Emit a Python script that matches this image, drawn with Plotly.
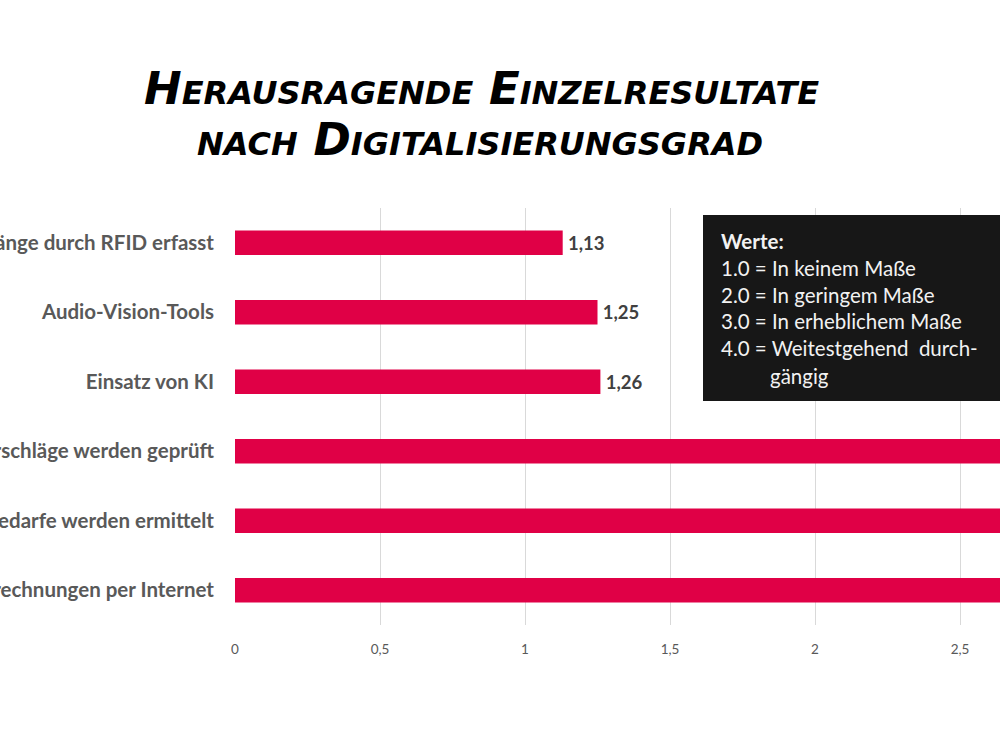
import plotly.graph_objects as go

categories = [
    "Warenausgänge durch RFID erfasst",
    "Audio-Vision-Tools",
    "Einsatz von KI",
    "Bestellvorschläge werden geprüft",
    "Materialbedarfe werden ermittelt",
    "Eingangsrechnungen per Internet",
]
values = [1.13, 1.25, 1.26, 3.05, 3.20, 3.35]
x_ticks = [0, 0.5, 1, 1.5, 2, 2.5, 3, 3.5]

title_lines = ["Herausragende Einzelresultate", "nach Digitalisierungsgrad"]

legend_title = "Werte:"
legend_lines = [
    "1.0 = In keinem Maße",
    "2.0 = In geringem Maße",
    "3.0 = In erheblichem Maße",
    "4.0 = Weitestgehend  durch-",
]
legend_cont = "gängig"

L, T, W, H = 235, 208, 1000, 750
PW = W - L
PH = 625 - T
px_per_unit = 290.0
FONT = "Lato, Open Sans, sans-serif"

fig = go.Figure(go.Bar(
    x=values, y=categories, orientation="h",
    marker=dict(color="#E00046", line=dict(width=0)),
    texttemplate="\u2009<b>%{x:.2f}</b>", textposition="outside",
    textfont=dict(family=FONT, size=18.5, color="#404040"),
    cliponaxis=True, width=0.35,
))

def px(xp):
    return (xp - L) / PW

def py(yp):
    return 1 - (yp - T) / PH

fig.add_shape(type="rect", xref="paper", yref="paper",
              x0=px(703), x1=px(1060), y0=py(401), y1=py(215),
              fillcolor="#171717", line=dict(width=0), layer="above")

fig.add_annotation(xref="paper", yref="paper", x=px(719), y=py(241),
                   text="<b>" + legend_title + "</b>", showarrow=False,
                   xanchor="left", yanchor="middle",
                   font=dict(family=FONT, size=20.5, color="#f2f2f2"))
ys = [268, 295, 321, 348]
for line, yy in zip(legend_lines, ys):
    fig.add_annotation(xref="paper", yref="paper", x=px(719), y=py(yy),
                       text=line, showarrow=False, xanchor="left", yanchor="middle",
                       font=dict(family=FONT, size=20.5, color="#f2f2f2"))
fig.add_annotation(xref="paper", yref="paper", x=px(768), y=py(376),
                   text=legend_cont, showarrow=False, xanchor="left", yanchor="middle",
                   font=dict(family=FONT, size=20.5, color="#f2f2f2"))

for line, yy, cx in zip(title_lines, [88, 140], [481, 480]):
    fig.add_annotation(xref="paper", yref="paper", x=px(cx), y=py(yy),
                       text=line, showarrow=False, xanchor="center", yanchor="middle",
                       font=dict(family="DejaVu Sans, sans-serif", size=45, color="#000000",
                                 weight="bold", style="italic", variant="small-caps"))

fig.update_layout(
    width=W, height=H,
    margin=dict(l=L, r=0, t=T, b=H - 625, autoexpand=False),
    paper_bgcolor="white", plot_bgcolor="white",
    separators=",.",
    showlegend=False,
    xaxis=dict(
        range=[0, PW / px_per_unit], tickvals=x_ticks,
        showgrid=True, gridcolor="#d9d9d9", gridwidth=1,
        zeroline=False, showline=False, ticks="",
        tickfont=dict(family=FONT, size=13.5, color="#595959"),
        ticklabelstandoff=14, automargin=False,
    ),
    yaxis=dict(
        categoryorder="array", categoryarray=categories[::-1],
        showgrid=False, zeroline=False, showline=False, ticks="",
        tickfont=dict(family=FONT, size=20.5, color="#595959", weight="bold"),
        ticklabelstandoff=20, automargin=False,
    ),
)

fig.write_html("out.html")
